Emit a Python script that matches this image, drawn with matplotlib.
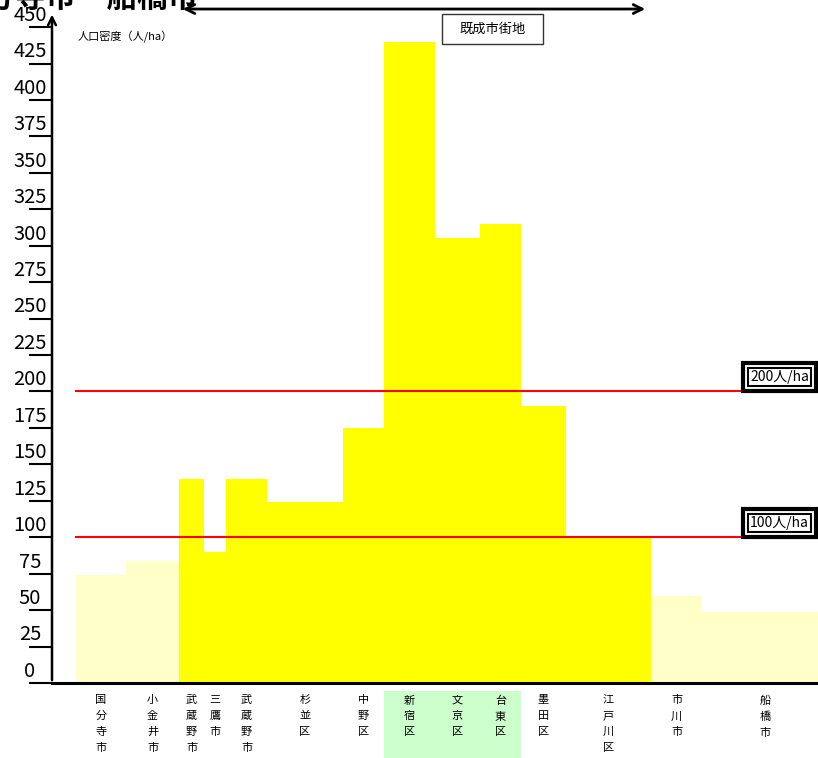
import numpy as np
import matplotlib
matplotlib.use("Agg")
import matplotlib.pyplot as plt
from matplotlib.patches import Rectangle

plt.rcParams['font.family'] = ['Noto Sans CJK JP', 'DejaVu Sans']

# data: population density per city / ward, bar width = relative size
cities = ['国分寺市', '小金井市', '武蔵野市', '三鷹市', '武蔵野市', '杉並区', '中野区',
          '新宿区', '文京区', '台東区', '墨田区', '江戸川区', '市川市', '船橋市']
density = [74, 84, 140, 90, 140, 124, 175, 440, 305, 315, 190, 100, 60, 49]
widths = [50, 53, 25, 22, 41, 76, 41, 51, 45, 41, 45, 85, 51, 126]
built_up = [False, False, True, True, True, True, True, True, True, True, True, True, False, False]
ref_levels = [100, 200]
ref_labels = ['100人/ha', '200人/ha']
yticks = list(range(0, 451, 25))

fig = plt.figure(figsize=(8.18, 7.58), dpi=100)
ax = fig.add_axes([52 / 818, 75 / 758, 766 / 818, 655.9 / 758])

x0 = 24
lefts = x0 + np.concatenate([[0], np.cumsum(widths)[:-1]])
centers = lefts + np.array(widths) / 2
colors = ['#ffff00' if b else '#ffffc8' for b in built_up]
ax.bar(lefts, density, width=widths, align='edge', color=colors, linewidth=0, zorder=1)

ax.set_xlim(0, 766)
ax.set_ylim(0, 450)

# reference lines
ax.hlines(ref_levels, 23, 766, colors='#ff0000', linewidth=1.5, zorder=3)
for lvl, lab in zip(ref_levels, ref_labels):
    y = lvl + 10
    ax.text(698, y, lab, ha='left', va='center', fontsize=10, color='none', zorder=4,
            bbox=dict(boxstyle='square,pad=0.5', fc='white', ec='black', lw=3), clip_on=False)
    ax.text(698, y, lab, ha='left', va='center', fontsize=10, color='black', zorder=5,
            bbox=dict(boxstyle='square,pad=0.15', fc='white', ec='black', lw=1.5), clip_on=False)

# axes styling
for s in ['top', 'right', 'left']:
    ax.spines[s].set_visible(False)
ax.spines['bottom'].set_linewidth(2.2)
ax.set_xticks([])
ax.set_yticks(yticks)
ax.set_yticklabels([])
ax.tick_params(axis='y', length=16.5, width=1.5, direction='out')
for t in yticks:
    ax.text(-22, t + 0.8, str(t), ha='center', va='bottom', fontsize=14.5, clip_on=False)
ax.annotate('', xy=(0, 460.5), xytext=(0, 0), xycoords='data',
            arrowprops=dict(arrowstyle='->', lw=1.8, color='black', mutation_scale=14),
            annotation_clip=False)
ax.text(26, 443, '人口密度（人/ha）', ha='left', va='center', fontsize=8)

# category labels under bars, vertical
green_l = lefts[7]
green_r = lefts[9] + widths[9]
ax.add_patch(Rectangle((green_l, -51.5), green_r - green_l, 46, facecolor='#ccffcc',
                       edgecolor='none', clip_on=False, zorder=0))
for cx, name in zip(centers, cities):
    ax.text(cx, -8.5, '\n'.join(name), ha='center', va='top', fontsize=8,
            linespacing=1.72, clip_on=False)

# built-up area arrow and box
ax.annotate('', xy=(lefts[2] + 1, 462.4), xytext=(lefts[11] + widths[11] - 3, 462.4),
            arrowprops=dict(arrowstyle='<->', lw=2, color='black', mutation_scale=16),
            annotation_clip=False)
ax.add_patch(Rectangle((390, 438.4), 101, 20.6, facecolor='white', edgecolor='#333333',
                       lw=1, clip_on=False, zorder=5))
ax.text(440.5, 448.7, '既成市街地', ha='center', va='center', fontsize=9.5, zorder=6)

fig.text(77 / 818, 1 - 7 / 758, '国分寺市～船橋市', ha='center', va='baseline',
         fontsize=22, fontweight='bold')

fig.savefig('out.png', dpi=100)
